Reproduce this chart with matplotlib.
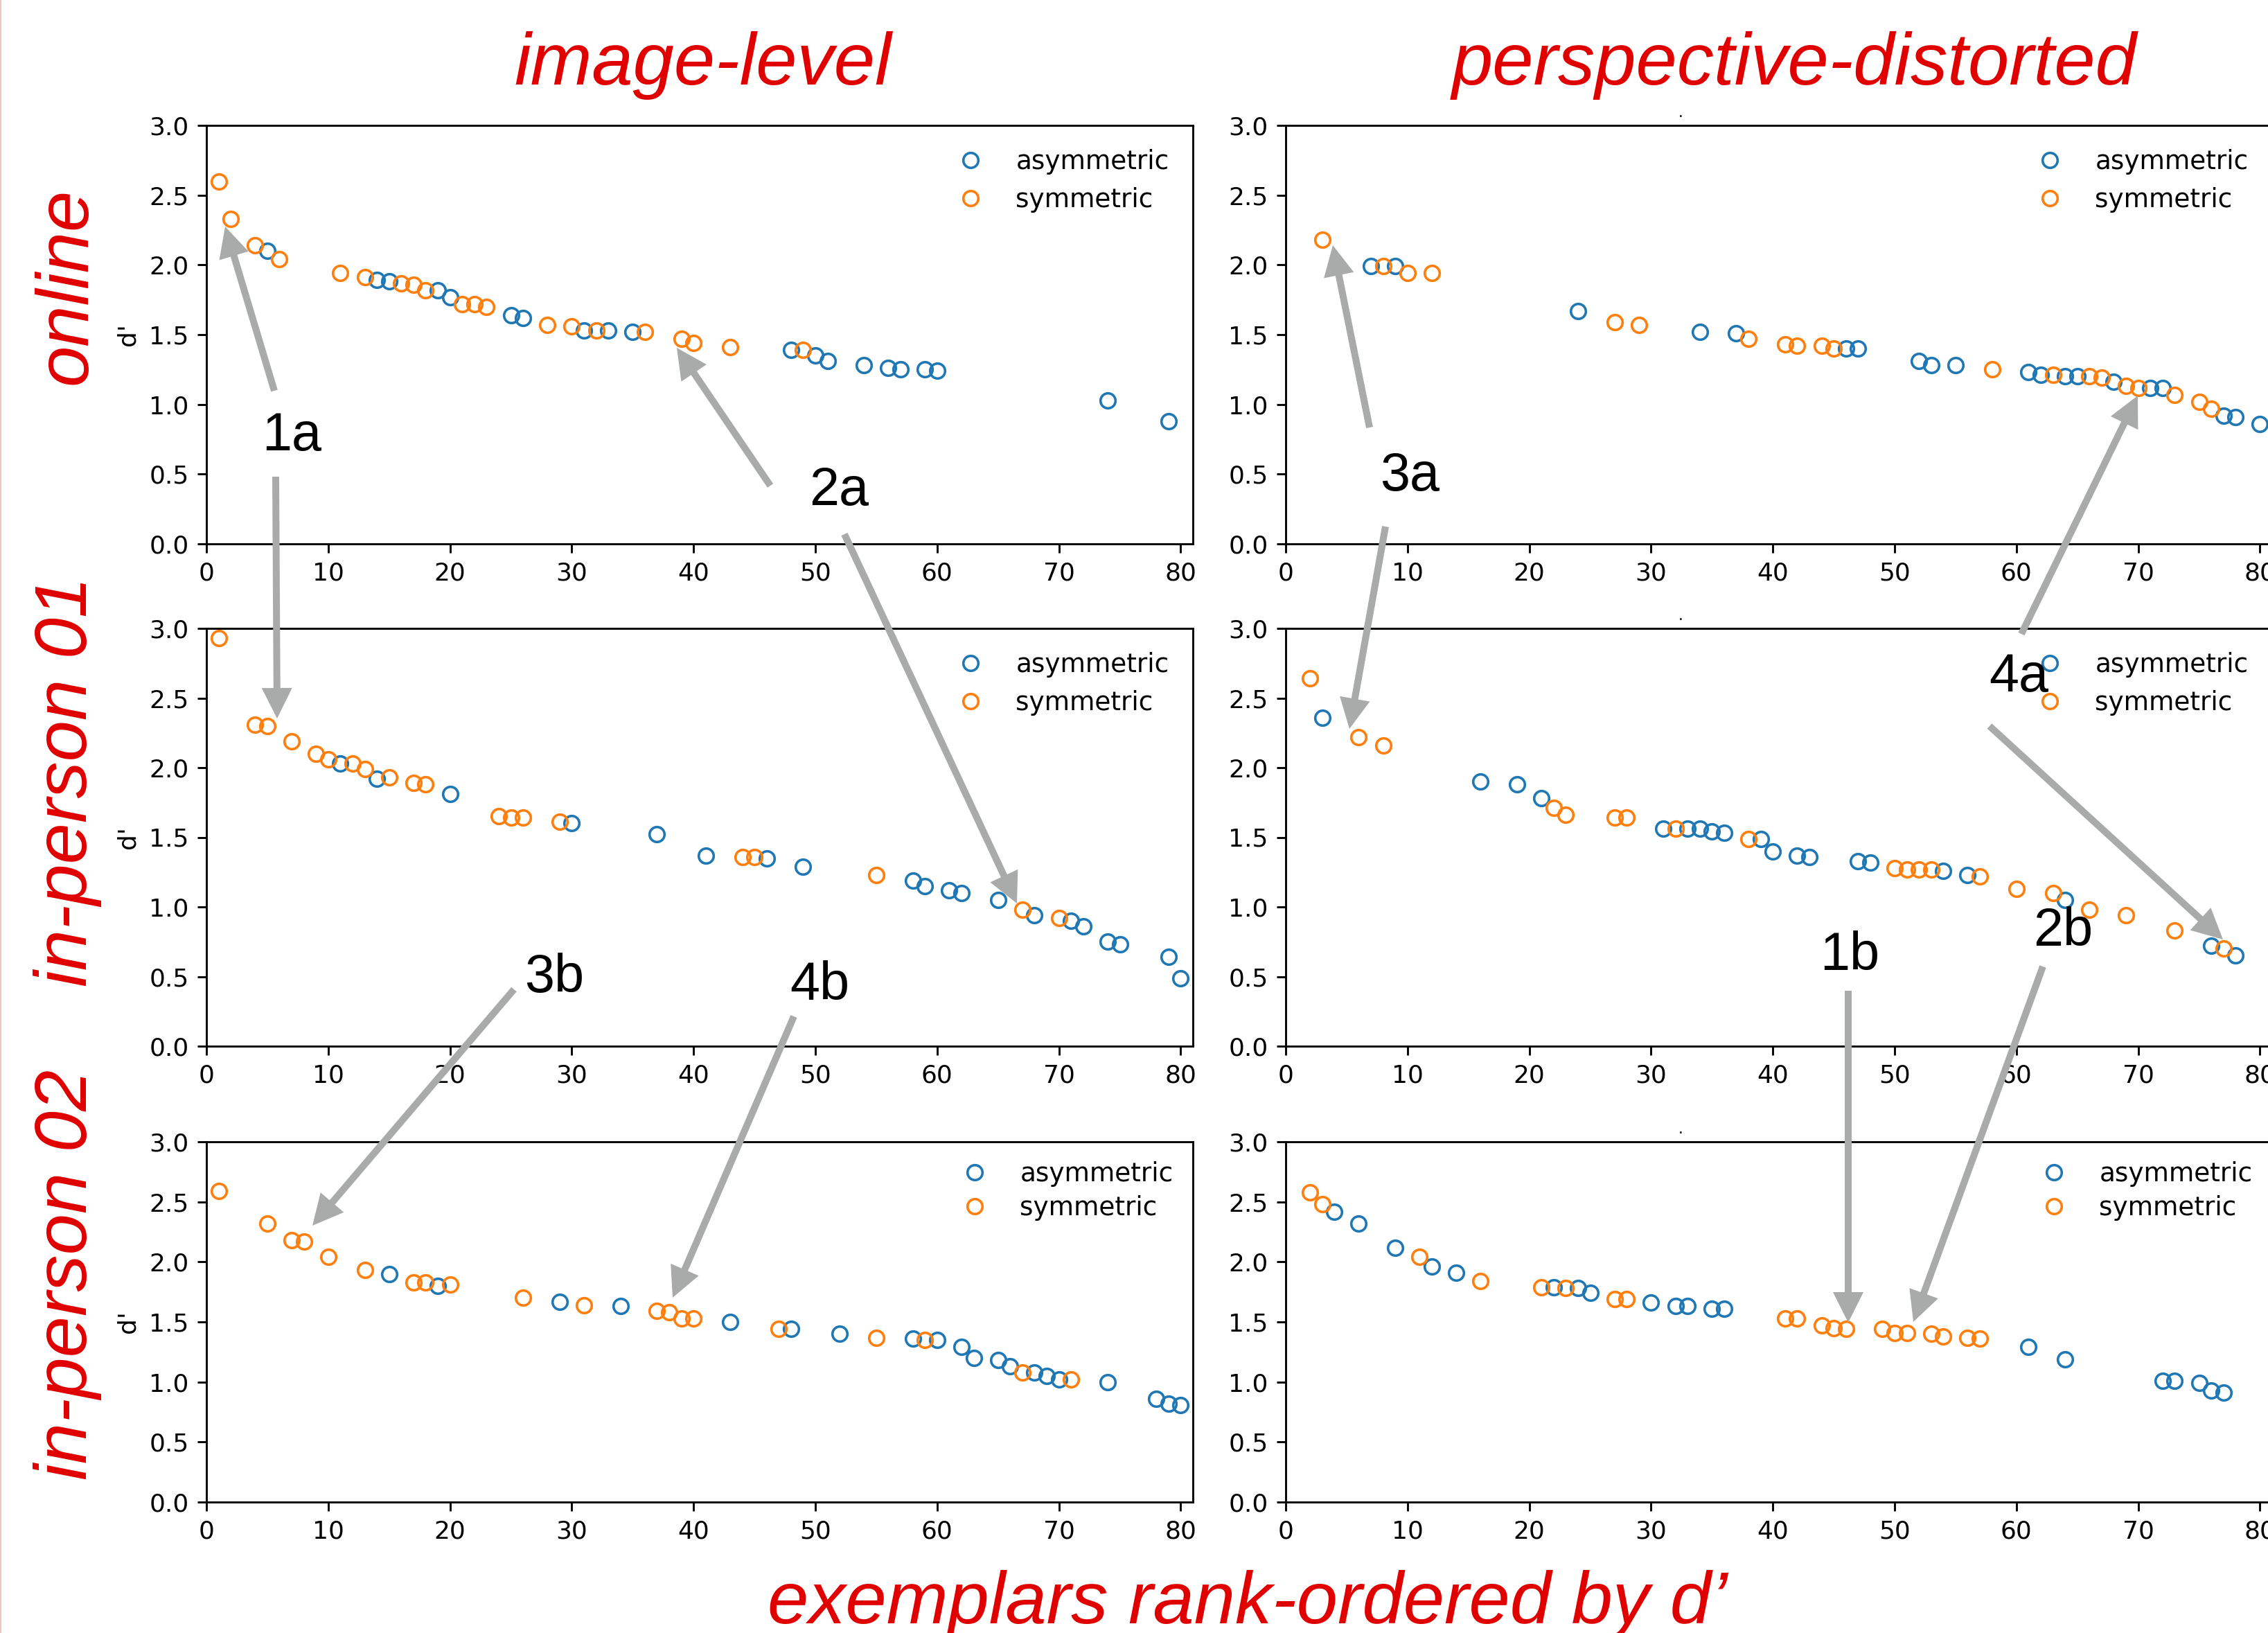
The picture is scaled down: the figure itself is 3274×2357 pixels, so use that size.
import matplotlib
matplotlib.use("Agg")
import matplotlib.pyplot as plt
from matplotlib.patches import FancyArrow

# d' of each exemplar against its rank, one pair of arrays per group and panel
online_img_asym_rank = [5, 14, 15, 19, 20, 25, 26, 31, 33, 35, 48, 50, 51, 54, 56, 57, 59, 60, 74, 79]
online_img_asym_d = [2.10, 1.89, 1.88, 1.82, 1.77, 1.64, 1.62, 1.53, 1.53, 1.52,
                     1.39, 1.35, 1.31, 1.28, 1.26, 1.25, 1.25, 1.24, 1.03, 0.88]
online_img_sym_rank = [1, 2, 4, 6, 11, 13, 16, 17, 18, 21, 22, 23, 28, 30, 32, 36, 39, 40, 43, 49]
online_img_sym_d = [2.60, 2.33, 2.14, 2.04, 1.94, 1.91, 1.87, 1.86, 1.82, 1.72,
                    1.72, 1.70, 1.57, 1.56, 1.53, 1.52, 1.47, 1.44, 1.41, 1.39]

online_persp_asym_rank = [7, 9, 24, 34, 37, 46, 47, 52, 53, 55, 61, 62, 64, 65, 68, 71, 72, 77, 78, 80]
online_persp_asym_d = [1.99, 1.99, 1.67, 1.52, 1.51, 1.40, 1.40, 1.31, 1.28, 1.28,
                       1.23, 1.21, 1.20, 1.20, 1.16, 1.12, 1.12, 0.92, 0.91, 0.86]
online_persp_sym_rank = [3, 8, 10, 12, 27, 29, 38, 41, 42, 44, 45, 58, 63, 66, 67, 69, 70, 73, 75, 76]
online_persp_sym_d = [2.18, 1.99, 1.94, 1.94, 1.59, 1.57, 1.47, 1.43, 1.42, 1.42,
                      1.40, 1.25, 1.21, 1.20, 1.19, 1.13, 1.12, 1.07, 1.02, 0.97]

p01_img_asym_rank = [11, 14, 20, 30, 37, 41, 46, 49, 58, 59, 61, 62, 65, 68, 71, 72, 74, 75, 79, 80]
p01_img_asym_d = [2.03, 1.92, 1.81, 1.60, 1.52, 1.37, 1.35, 1.29, 1.19, 1.15,
                  1.12, 1.10, 1.05, 0.94, 0.90, 0.86, 0.75, 0.73, 0.64, 0.49]
p01_img_sym_rank = [1, 4, 5, 7, 9, 10, 12, 13, 15, 17, 18, 24, 25, 26, 29, 44, 45, 55, 67, 70]
p01_img_sym_d = [2.93, 2.31, 2.30, 2.19, 2.10, 2.06, 2.03, 1.99, 1.93, 1.89,
                 1.88, 1.65, 1.64, 1.64, 1.61, 1.36, 1.36, 1.23, 0.98, 0.92]

p01_persp_asym_rank = [3, 16, 19, 21, 31, 33, 34, 35, 36, 39, 40, 42, 43, 47, 48, 54, 56, 64, 76, 78]
p01_persp_asym_d = [2.36, 1.90, 1.88, 1.78, 1.56, 1.56, 1.56, 1.54, 1.53, 1.49,
                    1.40, 1.37, 1.36, 1.33, 1.32, 1.26, 1.23, 1.05, 0.72, 0.65]
p01_persp_sym_rank = [2, 6, 8, 22, 23, 27, 28, 32, 38, 50, 51, 52, 53, 57, 60, 63, 66, 69, 73, 77]
p01_persp_sym_d = [2.64, 2.22, 2.16, 1.71, 1.66, 1.64, 1.64, 1.56, 1.49, 1.28,
                   1.27, 1.27, 1.27, 1.22, 1.13, 1.10, 0.98, 0.94, 0.83, 0.70]

p02_img_asym_rank = [15, 19, 29, 34, 43, 48, 52, 58, 60, 62, 63, 65, 66, 68, 69, 70, 74, 78, 79, 80]
p02_img_asym_d = [1.90, 1.80, 1.67, 1.63, 1.50, 1.44, 1.40, 1.36, 1.35, 1.29,
                  1.20, 1.18, 1.13, 1.08, 1.05, 1.02, 1.00, 0.86, 0.82, 0.81]
p02_img_sym_rank = [1, 5, 7, 8, 10, 13, 17, 18, 20, 26, 31, 37, 38, 39, 40, 47, 55, 59, 67, 71]
p02_img_sym_d = [2.59, 2.32, 2.18, 2.17, 2.04, 1.93, 1.83, 1.83, 1.81, 1.70,
                 1.64, 1.59, 1.58, 1.53, 1.53, 1.44, 1.37, 1.35, 1.08, 1.02]

p02_persp_asym_rank = [4, 6, 9, 12, 14, 22, 24, 25, 30, 32, 33, 35, 36, 61, 64, 72, 73, 75, 76, 77]
p02_persp_asym_d = [2.42, 2.32, 2.12, 1.96, 1.91, 1.79, 1.78, 1.74, 1.66, 1.63,
                    1.63, 1.61, 1.61, 1.29, 1.19, 1.01, 1.01, 0.99, 0.93, 0.91]
p02_persp_sym_rank = [2, 3, 11, 16, 21, 23, 27, 28, 41, 42, 44, 45, 46, 49, 50, 51, 53, 54, 56, 57]
p02_persp_sym_d = [2.58, 2.48, 2.04, 1.84, 1.79, 1.78, 1.69, 1.69, 1.53, 1.53,
                   1.47, 1.45, 1.44, 1.44, 1.41, 1.41, 1.40, 1.38, 1.37, 1.36]

col_titles = ["image-level", "perspective-distorted"]
row_titles = ["online", "in-person 01", "in-person 02"]
x_title = "exemplars rank-ordered by d\u2019"
series_labels = ["asymmetric", "symmetric"]
xticks = [0, 10, 20, 30, 40, 50, 60, 70, 80]
yticks = [0.0, 0.5, 1.0, 1.5, 2.0, 2.5, 3.0]

panels = [
    (0, 0, online_img_asym_rank, online_img_asym_d, online_img_sym_rank, online_img_sym_d),
    (0, 1, online_persp_asym_rank, online_persp_asym_d, online_persp_sym_rank, online_persp_sym_d),
    (1, 0, p01_img_asym_rank, p01_img_asym_d, p01_img_sym_rank, p01_img_sym_d),
    (1, 1, p01_persp_asym_rank, p01_persp_asym_d, p01_persp_sym_rank, p01_persp_sym_d),
    (2, 0, p02_img_asym_rank, p02_img_asym_d, p02_img_sym_rank, p02_img_sym_d),
    (2, 1, p02_persp_asym_rank, p02_persp_asym_d, p02_persp_sym_rank, p02_persp_sym_d),
]

# ---- layout, in pixels of the final image ----
W, H, DPI = 3274, 2357, 259
ROWS = [(181, 785), (907, 1510), (1648, 2168)]   # top, bottom
COLS = [(298, 1722), (1856, 3280)]               # left, right (right column runs off the page)
RED = "#e00000"
GREY = "#a9abaa"

fig = plt.figure(figsize=(W / DPI, H / DPI), dpi=DPI)

for r, c, ar, ad, sr, sd in panels:
    top, bot = ROWS[r]
    left, right = COLS[c]
    ax = fig.add_axes([left / W, 1 - bot / H, (right - left) / W, (bot - top) / H])
    ax.plot(ar, ad, "o", mfc="none", mec="#1f77b4", ms=6, mew=1.0, label=series_labels[0])
    ax.plot(sr, sd, "o", mfc="none", mec="#ff7f0e", ms=6, mew=1.0, label=series_labels[1])
    ax.set_xlim(0, 81)
    ax.set_ylim(0, 3)
    ax.set_xticks(xticks)
    ax.set_yticks(yticks)
    if c == 0:
        ax.set_ylabel("d'")
    # bottom row was squeezed a little in the original, legend rows sit closer
    if r < 2:
        ax.legend(loc="upper right", frameon=False, fontsize=10.4,
                  labelspacing=0.46, borderaxespad=0.52, handletextpad=0.75)
    else:
        ax.legend(loc="upper right", frameon=False, fontsize=10.4,
                  labelspacing=0.3, borderaxespad=0.36, handletextpad=0.75)
    # stray little dot above the right-hand panels
    if c == 1:
        fig.text(2426 / W, 1 - (top - 12) / H, ".", fontsize=6, ha="center", va="baseline")

# red headings
for name, xc in zip(col_titles, [1015, 2590]):
    fig.text(xc / W, 1 - 122 / H, name, color=RED, fontsize=29.6, family="Liberation Sans",
             style="italic", ha="center", va="baseline")
for name, yc in zip(row_titles, [413, 1128, 1840]):
    fig.text(125 / W, 1 - yc / H, name, color=RED, fontsize=29.6, family="Liberation Sans",
             style="italic", rotation=90, rotation_mode="anchor", ha="center", va="baseline")
fig.text(1801 / W, 1 - 2343 / H, x_title, color=RED, fontsize=29.6, family="Liberation Sans",
         style="italic", ha="center", va="baseline")

# overlay in pixel units for the grey call-out arrows
ov = fig.add_axes([0, 0, 1, 1], zorder=10)
ov.set_xlim(0, W)
ov.set_ylim(H, 0)
ov.axis("off")

arrows = [
    ((396, 564), (325, 327)), ((398, 688), (400, 1037)),    # 1a
    ((1112, 701), (977, 502)), ((1219, 771), (1468, 1304)),  # 2a
    ((1977, 617), (1924, 354)), ((2000, 760), (1948, 1052)), # 3a
    ((2918, 915), (3086, 571)), ((2872, 1048), (3209, 1356)),# 4a
    ((2668, 1430), (2668, 1909)),                            # 1b
    ((2949, 1395), (2762, 1908)),                            # 2b
    ((742, 1428), (451, 1769)),                              # 3b
    ((1146, 1467), (971, 1873)),                             # 4b
]
for (x0, y0), (x1, y1) in arrows:
    ov.add_patch(FancyArrow(x0, y0, x1 - x0, y1 - y0, width=10, head_width=44, head_length=44,
                            length_includes_head=True, fc=GREY, ec="none"))

tags = [("1a", 421, 650), ("2a", 1211, 729), ("3a", 2035, 708), ("4a", 2914, 998),
        ("3b", 800, 1432), ("4b", 1183, 1443), ("1b", 2670, 1400), ("2b", 2978, 1365)]
for t, x, y in tags:
    ov.text(x, y, t, fontsize=21.5, family="Liberation Sans", ha="center", va="baseline")

# faint pink edge on the left of the original
ov.axvline(1, color="#f2c4c4", lw=0.6)

fig.savefig("out.png", dpi=DPI)
